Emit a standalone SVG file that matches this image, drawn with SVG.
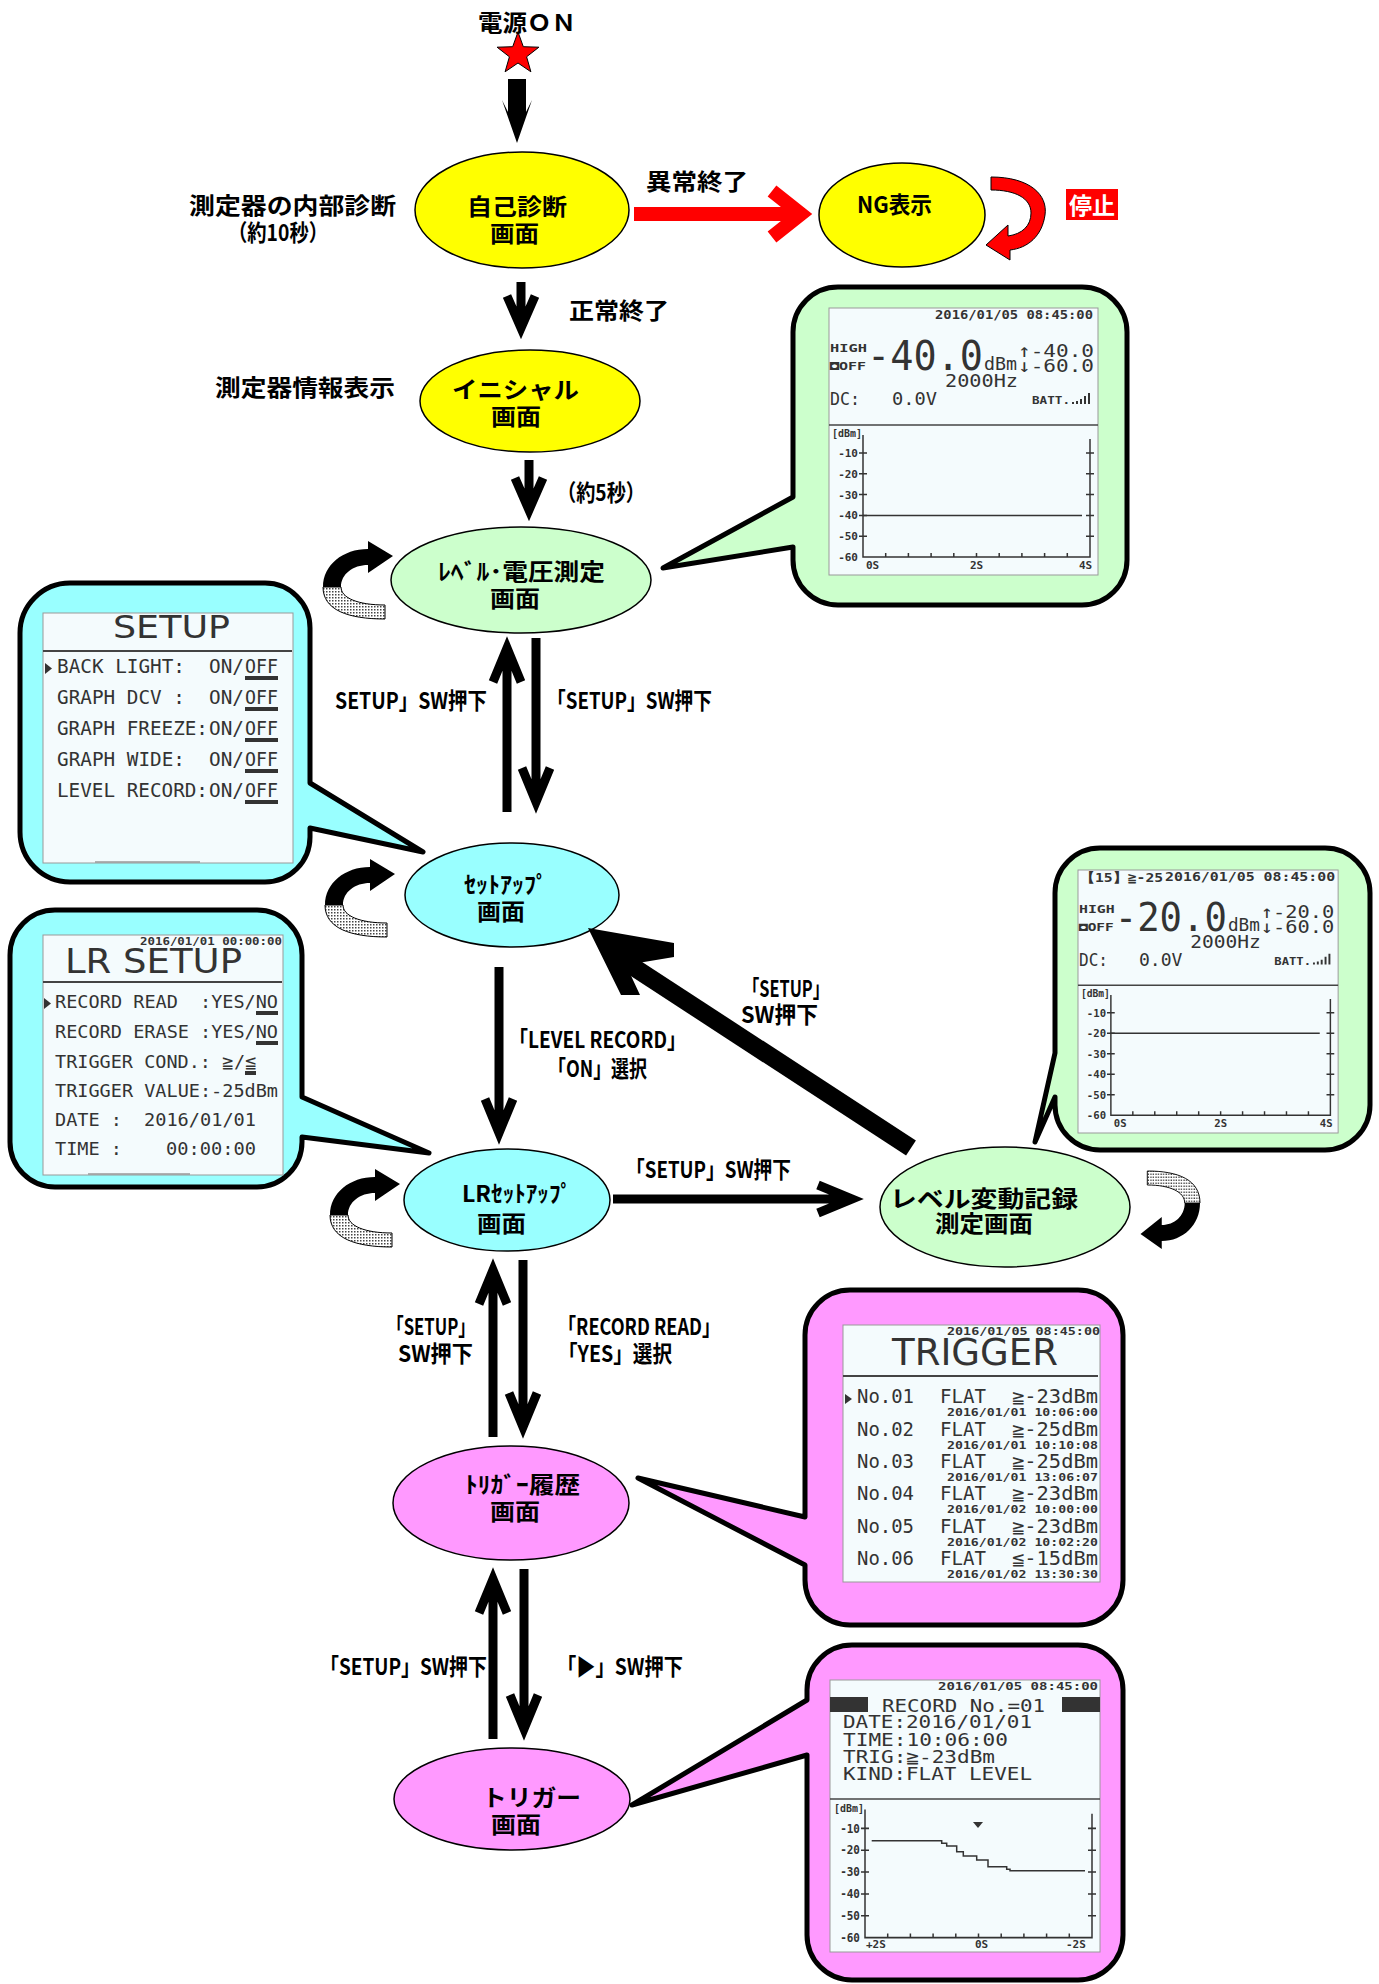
<svg xmlns="http://www.w3.org/2000/svg" width="1379" height="1984" viewBox="0 0 1379 1984">
<style>
.t{font-family:'Noto Sans CJK JP','Noto Sans CJK SC',sans-serif;font-weight:700;font-size:23px;fill:#000}
.el{stroke:#000;stroke-width:1.5}
.arr{fill:none;stroke:#000;stroke-width:9;stroke-linejoin:miter;stroke-miterlimit:6}
.co{stroke:#000;stroke-width:5;stroke-linejoin:round}
.lcd{font-family:'DejaVu Sans Mono','Liberation Mono',monospace;fill:#333}
.lcdb{font-family:'DejaVu Sans Mono','Liberation Mono',monospace;fill:#333;font-weight:700}
.ttl{font-family:'DejaVu Sans','Liberation Sans',sans-serif;fill:#333}
.scr{fill:#F4FBFD;stroke:#999;stroke-width:1}
.ax{fill:none;stroke:#333;stroke-width:1.5}
.yel{fill:#FFFF00}.grn{fill:#CCFFCC}.cyn{fill:#99FFFF}.pnk{fill:#FF99FF}
</style>
<defs>
<pattern id="hatch" width="3" height="3" patternUnits="userSpaceOnUse"><rect width="3" height="3" fill="#fff"/><rect width="1.5" height="1.5" fill="#444"/></pattern>
<g id="loop">
<path d="M0,47 C0,70 25,79 62,79 L62,65 C35,65 18,58 18,47 Z" fill="url(#hatch)" stroke="#000" stroke-width="1"/>
<path d="M0,47 C0,25 20,9 45,9 L45,1 L70,16 L45,33 L45,25 C30,25 18,34 18,47 Z" fill="#000"/>
</g>
<g id="axes">
<text class="lcdb" x="3" y="12" font-size="10" textLength="30" lengthAdjust="spacingAndGlyphs">[dBm]</text>
<path class="ax" d="M34,10V132H261V14"/>
<path class="ax" stroke-width="1.2" d="M30,28H38M30,48.8H38M30,69.6H38M30,90.4H38M30,111.2H38M257,28H265M257,48.8H265M257,69.6H265M257,90.4H265M257,111.2H265M56.7,128V132M79.4,128V132M102.1,128V132M124.8,128V132M147.5,128V132M170.2,128V132M192.9,128V132M215.6,128V132M238.3,128V132"/>
<g class="lcdb" font-size="11" text-anchor="end">
<text x="29" y="32">-10</text><text x="29" y="52.8">-20</text><text x="29" y="73.6">-30</text><text x="29" y="94.4">-40</text><text x="29" y="115.2">-50</text><text x="29" y="136">-60</text>
</g>
</g>
</defs>
<rect width="1379" height="1984" fill="#fff"/>

<!-- Callouts -->
<g id="c-level">
<path class="co grn" d="M838,287 H1082 A45,45 0 0 1 1127,332 V560 A45,45 0 0 1 1082,605 H838 A45,45 0 0 1 793,560 V547 L663,568 L793,497 V332 A45,45 0 0 1 838,287 Z"/>
<g transform="translate(829,308)">
<rect class="scr" width="269" height="267"/>
<text class="lcdb" x="106" y="11" font-size="12" textLength="158" lengthAdjust="spacingAndGlyphs">2016/01/05 08:45:00</text>
<text class="lcdb" x="1" y="44" font-size="11" textLength="37" lengthAdjust="spacingAndGlyphs">HIGH</text>
<text class="lcdb" x="1" y="62" font-size="10" textLength="36" lengthAdjust="spacingAndGlyphs">◘OFF</text>
<text class="lcd" x="38" y="62" font-size="40" textLength="116" lengthAdjust="spacingAndGlyphs">-40.0</text>
<text class="lcd" x="155" y="62" font-size="17" textLength="33" lengthAdjust="spacingAndGlyphs">dBm</text>
<text class="lcd" x="189" y="49" font-size="18" textLength="76" lengthAdjust="spacingAndGlyphs">↑-40.0</text>
<text class="lcd" x="189" y="64" font-size="18" textLength="76" lengthAdjust="spacingAndGlyphs">↓-60.0</text>
<text class="lcd" x="116" y="79" font-size="18" textLength="73" lengthAdjust="spacingAndGlyphs">2000Hz</text>
<text class="lcd" x="1" y="97" font-size="18" textLength="30" lengthAdjust="spacingAndGlyphs">DC:</text>
<text class="lcd" x="63" y="97" font-size="18" textLength="45" lengthAdjust="spacingAndGlyphs">0.0V</text>
<text class="lcdb" x="203" y="96" font-size="11" textLength="38" lengthAdjust="spacingAndGlyphs">BATT.</text>
<path d="M244,96v-2M248,96v-3M252,96v-5M256,96v-8M260,96v-11" stroke="#333" stroke-width="2"/>
<path d="M0,117H269" stroke="#444" stroke-width="1.5"/>
<use href="#axes" y="117"/>
<g class="lcdb" font-size="11"><text x="37" y="261">0S</text><text x="141" y="261">2S</text><text x="250" y="261">4S</text></g>
<path d="M34,207.4H253" stroke="#333" stroke-width="1.5"/>
</g>
</g>

<g id="c-setup">
<path class="co cyn" d="M70,583 H265 A45,45 0 0 1 310,628 V783 L423,852 L310,828 V837 A45,45 0 0 1 265,882 H70 A50,50 0 0 1 20,832 V633 A50,50 0 0 1 70,583 Z"/>
<rect class="scr" x="43" y="613" width="250" height="250"/>
<text class="ttl" x="113" y="638" font-size="32" textLength="117" lengthAdjust="spacingAndGlyphs">SETUP</text>
<path d="M43,651H292" stroke="#444" stroke-width="2"/>
<polygon points="45,663 45,674 52,668.5" fill="#333"/>
<g class="lcd" font-size="19">
<text x="57" y="673" textLength="128" lengthAdjust="spacingAndGlyphs">BACK LIGHT:</text>
<text x="57" y="704" textLength="128" lengthAdjust="spacingAndGlyphs">GRAPH DCV :</text>
<text x="57" y="735" textLength="151" lengthAdjust="spacingAndGlyphs">GRAPH FREEZE:</text>
<text x="57" y="766" textLength="128" lengthAdjust="spacingAndGlyphs">GRAPH WIDE:</text>
<text x="57" y="797" textLength="151" lengthAdjust="spacingAndGlyphs">LEVEL RECORD:</text>
<text x="209" y="673" textLength="35" lengthAdjust="spacingAndGlyphs">ON/</text><text x="245" y="673" textLength="33" lengthAdjust="spacingAndGlyphs">OFF</text>
<text x="209" y="704" textLength="35" lengthAdjust="spacingAndGlyphs">ON/</text><text x="245" y="704" textLength="33" lengthAdjust="spacingAndGlyphs">OFF</text>
<text x="209" y="735" textLength="35" lengthAdjust="spacingAndGlyphs">ON/</text><text x="245" y="735" textLength="33" lengthAdjust="spacingAndGlyphs">OFF</text>
<text x="209" y="766" textLength="35" lengthAdjust="spacingAndGlyphs">ON/</text><text x="245" y="766" textLength="33" lengthAdjust="spacingAndGlyphs">OFF</text>
<text x="209" y="797" textLength="35" lengthAdjust="spacingAndGlyphs">ON/</text><text x="245" y="797" textLength="33" lengthAdjust="spacingAndGlyphs">OFF</text>
</g>
<path d="M245,678H278M245,709H278M245,740H278M245,771H278M245,802H278" stroke="#333" stroke-width="4"/>
<path d="M95,862H200" stroke="#999" stroke-width="1.5"/>
</g>

<g id="c-lrsetup">
<path class="co cyn" d="M55,910 H257 A45,45 0 0 1 302,955 V1097 L429,1153 L302,1137 V1142 A45,45 0 0 1 257,1187 H55 A45,45 0 0 1 10,1142 V955 A45,45 0 0 1 55,910 Z"/>
<rect class="scr" x="43" y="935" width="240" height="240"/>
<text class="lcdb" x="140" y="945" font-size="10" textLength="142" lengthAdjust="spacingAndGlyphs">2016/01/01 00:00:00</text>
<text class="ttl" x="65" y="973" font-size="34" textLength="177" lengthAdjust="spacingAndGlyphs">LR SETUP</text>
<path d="M43,982H282" stroke="#444" stroke-width="2"/>
<polygon points="44,998 44,1009 51,1003.5" fill="#333"/>
<g class="lcd" font-size="18.5">
<text x="55" y="1008" textLength="123" lengthAdjust="spacingAndGlyphs">RECORD READ</text><text x="200" y="1008" textLength="78" lengthAdjust="spacingAndGlyphs">:YES/NO</text>
<text x="55" y="1038" textLength="134" lengthAdjust="spacingAndGlyphs">RECORD ERASE</text><text x="200" y="1038" textLength="78" lengthAdjust="spacingAndGlyphs">:YES/NO</text>
<text x="55" y="1068" textLength="156" lengthAdjust="spacingAndGlyphs">TRIGGER COND.:</text><text x="222" y="1068">≧</text><text x="234" y="1068">/</text><text x="245" y="1068">≦</text>
<text x="55" y="1097" textLength="223" lengthAdjust="spacingAndGlyphs">TRIGGER VALUE:-25dBm</text>
<text x="55" y="1126" textLength="67" lengthAdjust="spacingAndGlyphs">DATE :</text><text x="144" y="1126" textLength="112" lengthAdjust="spacingAndGlyphs">2016/01/01</text>
<text x="55" y="1155" textLength="67" lengthAdjust="spacingAndGlyphs">TIME :</text><text x="166" y="1155" textLength="90" lengthAdjust="spacingAndGlyphs">00:00:00</text>
</g>
<path d="M256,1013H278M256,1043H278M245,1073H256" stroke="#333" stroke-width="4"/>
<path d="M88,1174H190" stroke="#999" stroke-width="1.5"/>
</g>

<g id="c-levelrec">
<path class="co grn" d="M1100,848 H1325 A45,45 0 0 1 1370,893 V1105 A45,45 0 0 1 1325,1150 H1100 A45,45 0 0 1 1055,1105 V1097 L1035,1142 L1055,1053 V893 A45,45 0 0 1 1100,848 Z"/>
<g transform="translate(1078,870) scale(0.967,0.985)">
<rect class="scr" width="269" height="267"/>
<text class="lcdb" x="2" y="12" font-size="13" textLength="86" lengthAdjust="spacingAndGlyphs">【15】≧-25</text>
<text class="lcdb" x="90" y="11" font-size="12" textLength="176" lengthAdjust="spacingAndGlyphs">2016/01/05 08:45:00</text>
<text class="lcdb" x="1" y="44" font-size="11" textLength="37" lengthAdjust="spacingAndGlyphs">HIGH</text>
<text class="lcdb" x="1" y="62" font-size="10" textLength="36" lengthAdjust="spacingAndGlyphs">◘OFF</text>
<text class="lcd" x="38" y="62" font-size="40" textLength="116" lengthAdjust="spacingAndGlyphs">-20.0</text>
<text class="lcd" x="155" y="62" font-size="17" textLength="33" lengthAdjust="spacingAndGlyphs">dBm</text>
<text class="lcd" x="189" y="49" font-size="18" textLength="76" lengthAdjust="spacingAndGlyphs">↑-20.0</text>
<text class="lcd" x="189" y="64" font-size="18" textLength="76" lengthAdjust="spacingAndGlyphs">↓-60.0</text>
<text class="lcd" x="116" y="79" font-size="18" textLength="73" lengthAdjust="spacingAndGlyphs">2000Hz</text>
<text class="lcd" x="1" y="97" font-size="18" textLength="30" lengthAdjust="spacingAndGlyphs">DC:</text>
<text class="lcd" x="63" y="97" font-size="18" textLength="45" lengthAdjust="spacingAndGlyphs">0.0V</text>
<text class="lcdb" x="203" y="96" font-size="11" textLength="38" lengthAdjust="spacingAndGlyphs">BATT.</text>
<path d="M244,96v-2M248,96v-3M252,96v-5M256,96v-8M260,96v-11" stroke="#333" stroke-width="2"/>
<path d="M0,117H269" stroke="#444" stroke-width="1.5"/>
<use href="#axes" y="117"/>
<g class="lcdb" font-size="11"><text x="37" y="261">0S</text><text x="141" y="261">2S</text><text x="250" y="261">4S</text></g>
<path d="M34,165.8H250" stroke="#333" stroke-width="1.5"/>
</g>
</g>

<g id="c-trighist">
<path class="co pnk" d="M850,1290 H1078 A45,45 0 0 1 1123,1335 V1580 A45,45 0 0 1 1078,1625 H850 A45,45 0 0 1 805,1580 V1565 L638,1478 L805,1517 V1335 A45,45 0 0 1 850,1290 Z"/>
<g transform="translate(843,1325)">
<rect class="scr" width="257" height="257"/>
<text class="lcdb" x="104" y="10" font-size="11" textLength="153" lengthAdjust="spacingAndGlyphs">2016/01/05 08:45:00</text>
<text class="ttl" x="49" y="40" font-size="38" textLength="166" lengthAdjust="spacingAndGlyphs">TRIGGER</text>
<path d="M0,51H255" stroke="#444" stroke-width="2"/>
<polygon points="2,69 2,79 9,74" fill="#333"/>
<g class="lcd" font-size="19">
<text x="14" y="78" textLength="57" lengthAdjust="spacingAndGlyphs">No.01</text><text x="97" y="78" textLength="46" lengthAdjust="spacingAndGlyphs">FLAT</text><text x="169" y="78" textLength="86" lengthAdjust="spacingAndGlyphs">≧-23dBm</text>
<text x="14" y="111" textLength="57" lengthAdjust="spacingAndGlyphs">No.02</text><text x="97" y="111" textLength="46" lengthAdjust="spacingAndGlyphs">FLAT</text><text x="169" y="111" textLength="86" lengthAdjust="spacingAndGlyphs">≧-25dBm</text>
<text x="14" y="143" textLength="57" lengthAdjust="spacingAndGlyphs">No.03</text><text x="97" y="143" textLength="46" lengthAdjust="spacingAndGlyphs">FLAT</text><text x="169" y="143" textLength="86" lengthAdjust="spacingAndGlyphs">≧-25dBm</text>
<text x="14" y="175" textLength="57" lengthAdjust="spacingAndGlyphs">No.04</text><text x="97" y="175" textLength="46" lengthAdjust="spacingAndGlyphs">FLAT</text><text x="169" y="175" textLength="86" lengthAdjust="spacingAndGlyphs">≧-23dBm</text>
<text x="14" y="208" textLength="57" lengthAdjust="spacingAndGlyphs">No.05</text><text x="97" y="208" textLength="46" lengthAdjust="spacingAndGlyphs">FLAT</text><text x="169" y="208" textLength="86" lengthAdjust="spacingAndGlyphs">≧-23dBm</text>
<text x="14" y="240" textLength="57" lengthAdjust="spacingAndGlyphs">No.06</text><text x="97" y="240" textLength="46" lengthAdjust="spacingAndGlyphs">FLAT</text><text x="169" y="240" textLength="86" lengthAdjust="spacingAndGlyphs">≦-15dBm</text>
</g>
<g class="lcdb" font-size="11">
<text x="104" y="91" textLength="151" lengthAdjust="spacingAndGlyphs">2016/01/01 10:06:00</text>
<text x="104" y="124" textLength="151" lengthAdjust="spacingAndGlyphs">2016/01/01 10:10:08</text>
<text x="104" y="156" textLength="151" lengthAdjust="spacingAndGlyphs">2016/01/01 13:06:07</text>
<text x="104" y="188" textLength="151" lengthAdjust="spacingAndGlyphs">2016/01/02 10:00:00</text>
<text x="104" y="221" textLength="151" lengthAdjust="spacingAndGlyphs">2016/01/02 10:02:20</text>
<text x="104" y="253" textLength="151" lengthAdjust="spacingAndGlyphs">2016/01/02 13:30:30</text>
</g>
</g>
</g>

<g id="c-trigger">
<path class="co pnk" d="M852,1645 H1078 A45,45 0 0 1 1123,1690 V1935 A45,45 0 0 1 1078,1980 H852 A45,45 0 0 1 807,1935 V1755 L632,1805 L807,1700 V1690 A45,45 0 0 1 852,1645 Z"/>
<g transform="translate(830,1680)">
<rect class="scr" width="270" height="272"/>
<text class="lcdb" x="108" y="10" font-size="11" textLength="160" lengthAdjust="spacingAndGlyphs">2016/01/05 08:45:00</text>
<rect x="0" y="17" width="38" height="15" fill="#333"/>
<rect x="232" y="17" width="38" height="15" fill="#333"/>
<g class="lcd" font-size="18">
<text x="52" y="32" textLength="163" lengthAdjust="spacingAndGlyphs">RECORD No.=01</text>
<text x="13" y="48" textLength="189" lengthAdjust="spacingAndGlyphs">DATE:2016/01/01</text>
<text x="13" y="66" textLength="165" lengthAdjust="spacingAndGlyphs">TIME:10:06:00</text>
<text x="13" y="83" textLength="152" lengthAdjust="spacingAndGlyphs">TRIG:≧-23dBm</text>
<text x="13" y="100" textLength="189" lengthAdjust="spacingAndGlyphs">KIND:FLAT LEVEL</text>
</g>
<path d="M0,119H270" stroke="#444" stroke-width="1.5"/>
<use href="#axes" transform="translate(1,119) scale(1,1.05)"/>
<g class="lcdb" font-size="11"><text x="36" y="268">+2S</text><text x="145" y="268">0S</text><text x="236" y="268">-2S</text></g>
<polygon points="143,142 153,142 148,148" fill="#333"/>
<polyline fill="none" stroke="#333" stroke-width="1.5" points="41.7,160.7 111.7,160.7 111.7,163.3 116.7,163.3 116.7,166 126.7,166 126.7,171.7 133.3,171.7 133.3,176 146.7,176 146.7,180 158,180 158,186.7 176.7,186.7 176.7,189.3 180,189.3 180,190.7 255,190.7"/>
</g>
</g>

<!-- Nodes -->
<g id="n-power">
<text class="t" x="478" y="31" font-size="22" textLength="98" lengthAdjust="spacingAndGlyphs">電源ＯＮ</text>
<polygon points="518,32 523.3,46.7 538.9,47.2 526.6,56.8 530.9,71.8 518,63 505.1,71.8 509.4,56.8 497.1,47.2 512.7,46.7" fill="#FF0000" stroke="#000" stroke-width="1"/>
</g>
<g id="n-selftest">
<ellipse class="el yel" cx="522" cy="210" rx="107" ry="58"/>
<text class="t" x="467" y="215" font-size="24" textLength="100" lengthAdjust="spacingAndGlyphs">自己診断</text>
<text class="t" x="490" y="242" font-size="24" textLength="49" lengthAdjust="spacingAndGlyphs">画面</text>
</g>
<g id="n-ng">
<ellipse class="el yel" cx="902" cy="215" rx="83" ry="52"/>
<text class="t" x="857" y="213" textLength="75" lengthAdjust="spacingAndGlyphs">NG表示</text>
</g>
<g id="n-stop">
<rect x="1066" y="189" width="52" height="31" fill="#FF0000"/>
<text class="t" x="1069" y="214" font-size="22" textLength="46" lengthAdjust="spacingAndGlyphs" style="fill:#fff">停止</text>
</g>
<g id="n-initial">
<ellipse class="el yel" cx="530" cy="401" rx="110" ry="51"/>
<text class="t" x="452" y="398" font-size="24" textLength="127" lengthAdjust="spacingAndGlyphs">イニシャル</text>
<text class="t" x="491" y="425" font-size="24" textLength="50" lengthAdjust="spacingAndGlyphs">画面</text>
</g>
<g id="n-level">
<ellipse class="el grn" cx="521" cy="580" rx="130" ry="53"/>
<text class="t" x="438" y="580" textLength="167" lengthAdjust="spacingAndGlyphs">ﾚﾍﾞﾙ･電圧測定</text>
<text class="t" x="490" y="607" font-size="24" textLength="50" lengthAdjust="spacingAndGlyphs">画面</text>
</g>
<g id="n-setup">
<ellipse class="el cyn" cx="512" cy="895" rx="107" ry="52"/>
<text class="t" x="464" y="893" textLength="84" lengthAdjust="spacingAndGlyphs">ｾｯﾄｱｯﾌﾟ</text>
<text class="t" x="477" y="920" font-size="24" textLength="48" lengthAdjust="spacingAndGlyphs">画面</text>
</g>
<g id="n-lrsetup">
<ellipse class="el cyn" cx="507" cy="1200" rx="103" ry="51"/>
<text class="t" x="462" y="1202" textLength="110" lengthAdjust="spacingAndGlyphs">LRｾｯﾄｱｯﾌﾟ</text>
<text class="t" x="477" y="1232" font-size="24" textLength="49" lengthAdjust="spacingAndGlyphs">画面</text>
</g>
<g id="n-levelrec">
<ellipse class="el grn" cx="1005" cy="1207" rx="125" ry="60"/>
<text class="t" x="890" y="1207" font-size="25" textLength="188" lengthAdjust="spacingAndGlyphs">レベル変動記録</text>
<text class="t" x="935" y="1232" font-size="25" textLength="98" lengthAdjust="spacingAndGlyphs">測定画面</text>
</g>
<g id="n-trighist">
<ellipse class="el pnk" cx="511" cy="1503" rx="118" ry="57"/>
<text class="t" x="465" y="1493" textLength="115" lengthAdjust="spacingAndGlyphs">ﾄﾘｶﾞｰ履歴</text>
<text class="t" x="490" y="1520" font-size="24" textLength="50" lengthAdjust="spacingAndGlyphs">画面</text>
</g>
<g id="n-trigger">
<ellipse class="el pnk" cx="512" cy="1799" rx="118" ry="51"/>
<text class="t" x="482" y="1806" font-size="24" textLength="99" lengthAdjust="spacingAndGlyphs">トリガー</text>
<text class="t" x="491" y="1833" font-size="24" textLength="50" lengthAdjust="spacingAndGlyphs">画面</text>
</g>

<!-- side notes -->
<g id="notes">
<text class="t" x="189" y="214" textLength="207" lengthAdjust="spacingAndGlyphs">測定器の内部診断</text>
<text class="t" x="228" y="241" textLength="100" lengthAdjust="spacingAndGlyphs">（約10秒）</text>
<text class="t" x="215" y="396" textLength="180" lengthAdjust="spacingAndGlyphs">測定器情報表示</text>
</g>

<!-- Connectors -->
<g id="connectors">
<polygon points="508,79 526,79 526,112 532,100 517,143 502,100 508,112" fill="#000"/>
<rect x="634" y="207" width="168" height="14" fill="#FF0000"/>
<polyline points="772,191 801,214 772,237" fill="none" stroke="#FF0000" stroke-width="14" stroke-linejoin="miter"/>
<path d="M991,177 C1030,177 1048,195 1045,215 C1042,236 1028,248 1010,250 L1010,260 L986,245 L1008,225 L1008,236 C1022,234 1031,226 1031,213 C1031,198 1015,190 991,190 Z" fill="#FF0000" stroke="#000" stroke-width="1"/>
<path class="arr" d="M521,282V326M507,296L521,328L535,296"/>
<path class="arr" d="M529,460V508M515,478L529,510L543,478"/>
<path class="arr" d="M507,812V652M493,682L507,648L521,682"/>
<path class="arr" d="M536,638V798M522,768L536,802L550,768"/>
<path class="arr" d="M499,967V1130M485,1099L499,1133L513,1099"/>
<path class="arr" d="M613,1199H850M818,1185L852,1199L818,1213"/>
<path class="arr" d="M493,1437V1274M479,1304L493,1270L507,1304"/>
<path class="arr" d="M523,1260V1423M509,1393L523,1427L537,1393"/>
<path class="arr" d="M493,1739V1583M479,1613L493,1579L507,1613"/>
<path class="arr" d="M524,1569V1725M510,1695L524,1729L538,1695"/>
<line x1="911" y1="1148" x2="615" y2="955" stroke="#000" stroke-width="18"/>
<polygon points="588,928 674,943 674,957 626,965 640,995 621,995" fill="#000"/>
<use href="#loop" transform="translate(323,540)"/>
<use href="#loop" transform="translate(325,858)"/>
<use href="#loop" transform="translate(330,1168)"/>
<use href="#loop" transform="translate(1200,1250) rotate(180) scale(0.85,1)"/>
<text class="t" x="646" y="190" font-size="24" textLength="102" lengthAdjust="spacingAndGlyphs">異常終了</text>
<text class="t" x="569" y="319" textLength="100" lengthAdjust="spacingAndGlyphs">正常終了</text>
<text class="t" x="557" y="501" font-size="22" textLength="88" lengthAdjust="spacingAndGlyphs">（約5秒）</text>
<text class="t" x="335" y="709" textLength="152" lengthAdjust="spacingAndGlyphs">SETUP」SW押下</text>
<text class="t" x="547" y="709" textLength="165" lengthAdjust="spacingAndGlyphs">「SETUP」SW押下</text>
<text class="t" x="509" y="1048" textLength="177" lengthAdjust="spacingAndGlyphs">「LEVEL RECORD」</text>
<text class="t" x="548" y="1077" textLength="99" lengthAdjust="spacingAndGlyphs">「ON」選択</text>
<text class="t" x="743" y="997" textLength="86" lengthAdjust="spacingAndGlyphs">「SETUP」</text>
<text class="t" x="741" y="1023" textLength="77" lengthAdjust="spacingAndGlyphs">SW押下</text>
<text class="t" x="626" y="1178" textLength="165" lengthAdjust="spacingAndGlyphs">「SETUP」SW押下</text>
<text class="t" x="387" y="1335" textLength="88" lengthAdjust="spacingAndGlyphs">「SETUP」</text>
<text class="t" x="398" y="1362" textLength="75" lengthAdjust="spacingAndGlyphs">SW押下</text>
<text class="t" x="558" y="1335" textLength="162" lengthAdjust="spacingAndGlyphs">「RECORD READ」</text>
<text class="t" x="558" y="1362" textLength="114" lengthAdjust="spacingAndGlyphs">「YES」選択</text>
<text class="t" x="320" y="1675" textLength="167" lengthAdjust="spacingAndGlyphs">「SETUP」SW押下</text>
<text class="t" x="557" y="1675" textLength="126" lengthAdjust="spacingAndGlyphs">「▶」SW押下</text>
</g>
</svg>
